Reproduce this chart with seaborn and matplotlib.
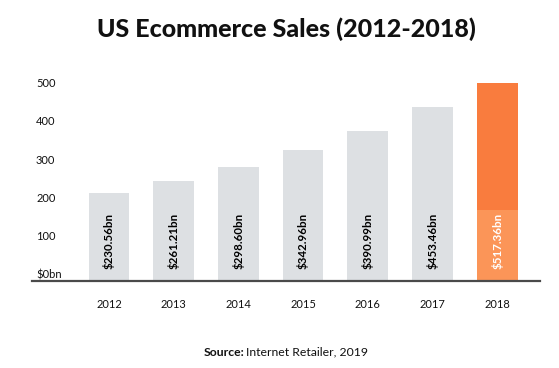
import pandas as pd
import seaborn as sns
import matplotlib.pyplot as plt
import matplotlib.transforms as mtransforms


years = ['2012', '2013', '2014', '2015', '2016', '2017', '2018']
sales = [230.56, 261.21, 298.60, 342.96, 390.99, 453.46, 517.36]
# lighter lower block of the 2018 bar
lower_2018 = 185
y_ticks = [0, 100, 200, 300, 400, 500]
y_labels = ['$0bn', '100', '200', '300', '400', '500']

gray = '#DDE0E3'
orange = '#F97C3E'
light_orange = '#FB9558'

df = pd.DataFrame({'year': years, 'sales': sales})
df_low = pd.DataFrame({'year': ['2018'], 'sales': [lower_2018]})

sns.set_theme(style='white')
plt.rcParams['font.family'] = ['Lato', 'DejaVu Sans']

fig = plt.figure(figsize=(5.59, 3.68), dpi=100)
ax = fig.add_axes([0.057, 0.2364, 0.909, 0.562])

colors = {y: gray for y in years}
colors['2018'] = orange
sns.barplot(data=df, x='year', y='sales', hue='year', palette=colors,
            order=years, width=0.63, legend=False, saturation=1,
            linewidth=0, ax=ax)
sns.barplot(data=df_low, x='year', y='sales', color=light_orange,
            order=years, width=0.63, saturation=1, linewidth=0, ax=ax)

ax.set_xlim(-1.19, 6.66)
ax.set_ylim(0, 540)
ax.set_xlabel('')
ax.set_ylabel('')

for s in ['top', 'right', 'left']:
    ax.spines[s].set_visible(False)
ax.spines['bottom'].set_color('#4a4a4a')
ax.spines['bottom'].set_linewidth(1.6)

ax.set_yticks(y_ticks)
ax.set_yticklabels(y_labels)
ax.tick_params(axis='y', length=0, pad=-3, labelsize=8, labelcolor='#111111')
shift = mtransforms.ScaledTranslation(0, 7 / 100, fig.dpi_scale_trans)
for lab in ax.get_yticklabels():
    lab.set_horizontalalignment('left')
    lab.set_transform(lab.get_transform() + shift)
ax.tick_params(axis='x', length=0, pad=13, labelsize=8, labelcolor='#111111')

# value labels, written upwards from the bottom of each bar
up = mtransforms.ScaledTranslation(0, 12 / 100, fig.dpi_scale_trans)
for i, v in enumerate(sales):
    c = 'white' if years[i] == '2018' else 'black'
    ax.text(i, 0, f'${v:.2f}bn', rotation=90, ha='center', va='bottom',
            fontsize=8.3, fontweight='bold', color=c,
            transform=ax.transData + up)

fig.text(0.512, 1 - 29 / 368, 'US Ecommerce Sales (2012-2018)', ha='center',
         va='center', fontsize=18, fontweight='black', color='#111111')
fig.text(244 / 559, 1 - 352 / 368, 'Source:', ha='right', va='center',
         fontsize=8.8, fontweight='bold', color='#111111')
fig.text(246 / 559, 1 - 352 / 368, 'Internet Retailer, 2019', ha='left',
         va='center', fontsize=8.8, color='#111111')

plt.savefig('out.png', dpi=100)
